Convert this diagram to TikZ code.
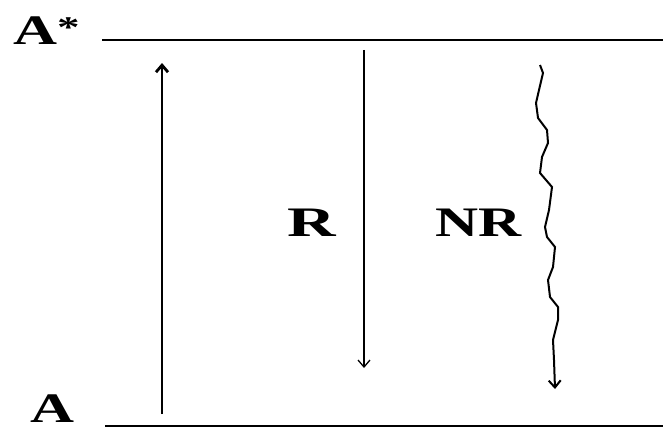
\documentclass[tikz,border=0pt]{standalone}
\usepackage{fontspec}
\setmainfont{Liberation Serif}
\usetikzlibrary{arrows.meta}
\begin{document}
\begin{tikzpicture}[x=1pt,y=-1pt,
  lbl/.style={font=\bfseries\fontsize{42}{42}\selectfont, inner sep=0pt},
  level/.style={line width=1.3pt},
  arr/.style={-{Straight Barb[length=7pt,width=12pt]}}]
\useasboundingbox (0,0) rectangle (663,428);
% levels
\coordinate (t1) at (102,40); \coordinate (t2) at (663,40);
\coordinate (b1) at (105,426); \coordinate (b2) at (663,426);
\draw[level] (t1) -- (t2);
\draw[level] (b1) -- (b2);
\node[lbl, anchor=base west] (Astar) at (13,45) {\scalebox{1.45}[1]{A}\raisebox{7pt}{\scalebox{1.5}[1]{\fontsize{30}{30}\selectfont *}}};
\node[lbl, anchor=base west] (A) at (30,422) {\scalebox{1.45}[1]{A}};
% absorption
\coordinate (u1) at (162,414); \coordinate (u2) at (162,63);
\draw[arr, line width=2.8pt] (u1) -- (u2);
% radiative
\coordinate (r1) at (364,50); \coordinate (r2) at (364,368);
\draw[arr, line width=1.3pt] (r1) -- (r2);
\node[lbl, anchor=base west] (R) at (287,236) {\scalebox{1.6}[1]{R}};
\node[lbl, anchor=base west] (NR) at (435,236) {\scalebox{1.42}[1]{NR}};
% non-radiative wavy
\coordinate (w0) at (540,65);
\coordinate (w1) at (555,389);
\draw[arr, line width=2pt] (w0) -- (543,73) -- (539,90) -- (536,103) -- (538,118) -- (547,130) -- (548,143) -- (542,157) -- (540,173) -- (552,187) -- (549,210) -- (545,227) -- (547,237) -- (555,247) -- (553,267) -- (548,280) -- (550,297) -- (558,307) -- (558,320) -- (553,340) -- (554,360) -- (w1);
\end{tikzpicture}
\end{document}
